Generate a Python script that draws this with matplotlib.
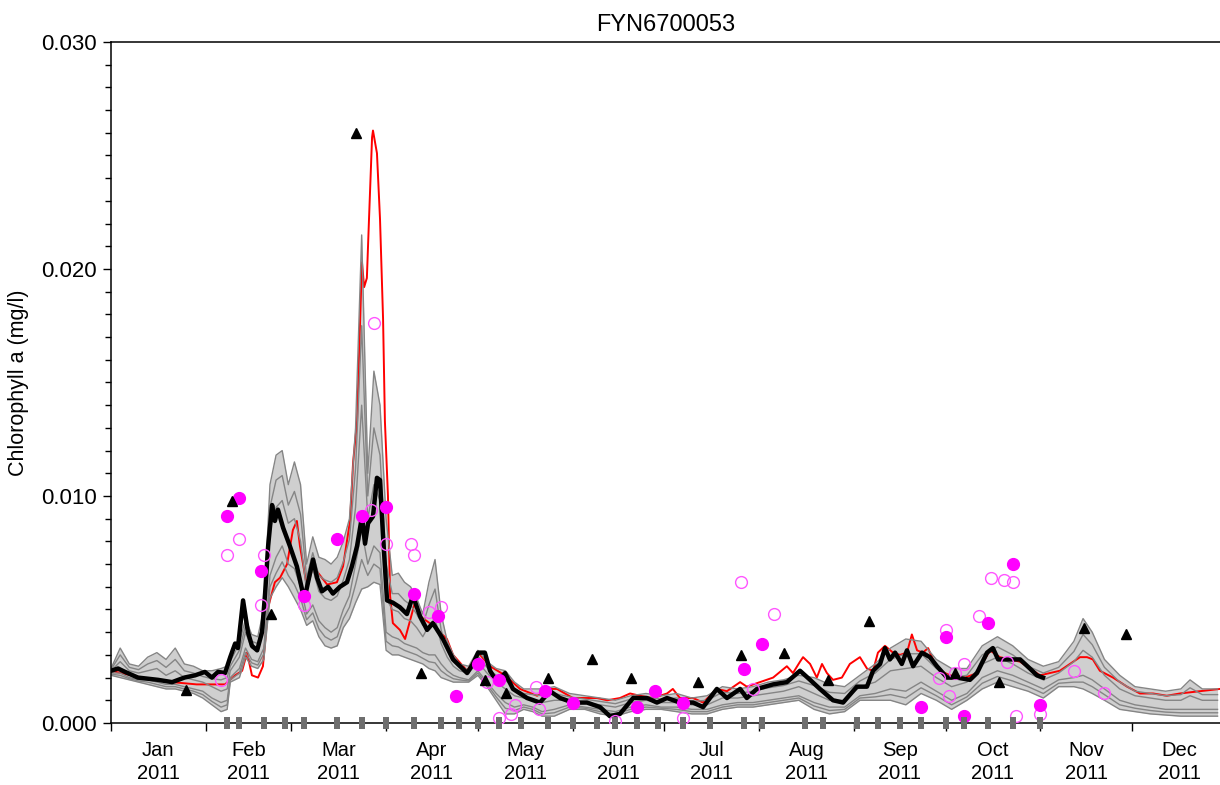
import numpy as np
import pandas as pd
import matplotlib
matplotlib.use('Agg')
import matplotlib.pyplot as plt
import matplotlib.dates as mdates
from matplotlib.ticker import FixedLocator, MultipleLocator, NullFormatter

plt.rcParams['font.family'] = ['Liberation Sans', 'DejaVu Sans']

START = pd.Timestamp('2011-01-01')

# values in ug/l (plotted as mg/l), x in day of year (0 = 1 Jan 2011)
black_doy = [0, 2.3, 4.6, 8.8, 15.4, 20, 24, 27.5, 30.7, 33, 35, 37.3, 39, 40.6, 41.5,
             43.2, 44.8, 46.1, 47.8, 49.4, 50.4, 51.4, 52.7, 53.6, 54.6, 56.3, 58.5, 60.8,
             62.8, 63.5, 65.1, 66.1, 67.4, 69, 71, 72.6, 74.9, 77.2, 78.8, 80.5, 82.1, 83.1,
             84.1, 85.7, 87, 88, 89, 90.3, 92.2, 94.5, 96.8, 98.8, 101.1, 103.4, 105.3,
             108.6, 111.9, 116.5, 118.4, 120.1, 122.3, 124, 126.3, 128.9, 131.5, 136.1,
             140.3, 143.6, 146.9, 151.1, 155.7, 160, 163.2, 166.5, 170.8, 175.3, 178.6,
             181.9, 186.1, 190.4, 193.7, 198.2, 201.5, 205.8, 208, 211.3, 216.6, 221.1,
             225.4, 228.7, 231.9, 236.2, 239.5, 244, 247.3, 249.3, 251.6, 253.2, 254.8,
             256.5, 258.7, 260.4, 262.4, 265.3, 267.9, 270.2, 273.5, 276.7, 281, 283.3,
             286.6, 288.5, 290.2, 294.1, 297.4, 300.6, 302.9, 304.9]
black_val = [2.3, 2.4, 2.25, 2.0, 1.9, 1.8, 2.0, 2.1, 2.25, 2.0, 2.25, 2.2, 2.9, 3.5, 3.3,
             5.4, 4.0, 3.4, 3.2, 4.0, 5.7, 7.8, 9.6, 8.9, 9.4, 8.6, 7.8, 6.9,
             5.7, 5.6, 6.6, 7.2, 6.4, 5.8, 6.0, 5.7, 6.0, 6.2, 6.9, 7.8, 9.1, 7.9,
             8.8, 9.1, 10.8, 10.7, 8.2, 5.4, 5.3, 5.1, 4.8, 5.6, 4.7, 4.1, 4.4,
             3.7, 2.8, 2.2, 2.6, 3.1, 3.1, 2.3, 1.8, 2.2, 1.5, 1.1,
             0.9, 1.4, 1.1, 0.9, 0.9, 0.7, 0.3, 0.4, 1.1, 1.1, 0.9,
             1.1, 0.9, 0.9, 0.7, 1.5, 1.1, 1.5, 1.1, 1.5, 1.7, 1.8,
             2.3, 1.9, 1.5, 1.0, 0.9, 1.6, 1.6, 2.3, 2.6, 3.3, 2.8,
             3.1, 2.6, 3.2, 2.5, 3.1, 2.9, 2.5, 2.0, 2.0, 1.9, 2.2,
             3.1, 3.3, 2.8, 2.8, 2.8, 2.4, 2.1, 2.0]

red_doy = [0, 10, 20, 28, 33, 37.3, 40.6, 42.9, 44.5, 46.1, 48.1, 49.7, 51.4, 53.6, 55.3,
           57.6, 59.5, 60.8, 61.8, 64.1, 66.1, 70.7, 73.9, 75.9, 78.2, 79.2, 80.5, 81.5,
           82.1, 82.8, 83.7, 84.4, 85.4, 85.7, 87, 88, 89, 89.6, 90.6, 91.3, 92.2, 94.5,
           96.2, 97.8, 99.4, 101.1, 105.3, 109.9, 111.9, 116.5, 120.1, 124, 128.9, 133.8,
           139.4, 143.6, 145.9, 151.1, 155.7, 159, 162.3, 166.5, 169.8, 173, 177.3, 181.9,
           183.8, 186.1, 190.4, 193.7, 198.2, 201.5, 205.8, 208, 212.3, 216.6, 221.1,
           223.1, 225.4, 226.4, 228.7, 230.9, 232.6, 234.2, 236.2, 239.1, 241.7, 245,
           247.3, 249.3, 250.9, 253.2, 255.8, 258.1, 260.4, 262, 263.7, 265.6, 267.3,
           268.9, 271.2, 274.5, 279.4, 283.3, 287.5, 290.8, 297.4, 303.9, 310.4, 317,
           319.3, 321.2, 323.5, 327.8, 332.4, 336.6, 340.9, 345.4, 349.7, 356.2, 362.8]
red_val = [2.3, 2.0, 1.8, 1.7, 1.7, 1.7, 2.1, 2.3, 3.1, 2.1, 2.0, 2.5, 5.1, 6.2, 6.4,
           7.0, 8.5, 8.9, 7.8, 6.0, 6.9, 6.1, 6.2, 6.9, 8.9, 11.5, 13.3, 17.8,
           20.3, 19.2, 19.6, 22.2, 25.8, 26.1, 25.1, 22.2, 17.8, 13.3, 10.0, 5.6, 4.4, 4.1,
           3.7, 4.5, 5.3, 4.7, 4.3, 3.7, 3.0, 2.3, 3.1, 2.5, 2.1, 1.5,
           1.2, 1.5, 1.5, 1.1, 1.1, 1.1, 1.0, 1.1, 1.3, 1.2, 1.1, 1.3,
           1.5, 1.1, 1.1, 0.9, 1.5, 1.4, 1.8, 1.6, 1.8, 2.0, 2.5,
           2.2, 2.7, 2.9, 2.6, 2.0, 2.6, 2.2, 1.9, 2.0, 2.6, 2.9,
           2.4, 2.3, 3.1, 3.4, 3.1, 3.0, 3.1, 3.9, 3.2, 3.1, 3.3,
           2.8, 2.3, 2.1, 2.0, 2.2, 3.2, 2.9, 2.7, 2.1, 2.3, 2.9,
           2.9, 2.8, 2.3, 2.0, 1.6, 1.3, 1.3, 1.2, 1.3, 1.4, 1.5]

# ensemble members (grey), shared day grid
ens_doy = [0, 3, 6, 9, 12, 15, 18, 21, 24, 27, 30, 33, 36,
           38, 39,
           42, 44, 46, 48, 50, 52, 54, 56, 58, 60, 62, 64, 66, 68, 70, 72, 74, 76, 78, 80,
           82, 84, 86, 88, 90, 92, 94, 96, 98, 100, 102, 104, 106, 108, 110, 112, 114,
           117, 120, 123, 126, 129, 132, 135, 138, 141,
           145,
           150, 155, 160, 165, 170, 175, 180, 185, 190, 195, 200, 205, 210, 215, 220, 225,
           230, 235, 240, 245, 250, 255, 260, 265, 270, 275, 280, 285, 290, 295, 300, 305,
           310, 315,
           318, 321,
           325, 330, 335, 340, 345, 350,
           353, 357, 362]
ens_hi = [2.4, 3.3, 2.6, 2.5, 2.9, 3.1, 2.8, 3.3, 2.6, 2.5, 2.3, 2.3, 2.4,
          2.5, 2.7,
          3.5, 4.6, 3.9, 3.8, 5.0, 10.5, 11.8, 12.0, 10.5, 11.5, 10.5, 7.0, 8.2, 7.3, 7.2,
          7.0, 7.3, 8.0, 9.0, 13.0, 21.5, 11.0, 15.5, 14.0, 9.0, 6.5, 6.6, 6.2, 6.0, 5.5,
          4.8, 6.2, 7.2, 4.8, 3.6, 3.0, 2.6,
          2.5, 3.2, 2.7, 2.4, 2.3, 1.8, 1.5, 1.5, 1.5,
          1.6,
          1.3, 1.2, 1.1, 1.0, 1.2, 1.3, 1.2, 1.3, 1.1, 1.2, 1.6, 1.5, 1.6, 1.8, 1.9, 2.1,
          2.0, 1.7, 1.6, 2.1, 2.6, 3.3, 3.7, 3.6, 2.8, 2.4, 2.4, 3.4, 3.8, 3.4, 2.8, 2.5,
          2.7, 3.6,
          4.6, 4.0,
          2.8, 2.1, 1.6, 1.5, 1.4, 1.5,
          1.9, 1.5, 1.5]
ens_c = [2.35, 3.0, 2.45, 2.35, 2.6, 2.75, 2.45, 2.8, 2.3, 2.2, 2.05, 1.95, 1.9,
         2.0, 2.5,
         3.2, 4.3, 3.6, 3.5, 4.6, 9.5, 10.7, 10.9, 9.6, 10.2, 9.2, 6.4, 7.5, 6.5, 6.3,
         6.2, 6.4, 7.1, 8.1, 11.2, 17.5, 10.0, 13.0, 11.8, 7.0, 5.7, 5.7, 5.4, 5.2, 4.8,
         4.3, 5.2, 5.9, 4.1, 3.2, 2.7, 2.45,
         2.35, 2.95, 2.45, 2.1, 1.9, 1.5, 1.3, 1.25, 1.2,
         1.3,
         1.15, 1.05, 0.95, 0.85, 1.05, 1.15, 1.05, 1.1, 0.95, 1.0, 1.35, 1.3, 1.4, 1.55,
         1.65, 1.85, 1.65, 1.35, 1.3, 1.85, 2.2, 2.8, 3.05, 3.05, 2.4, 2.0, 2.1, 3.0, 3.35,
         3.0, 2.5, 2.2, 2.45, 3.15,
         3.9, 3.45,
         2.45, 1.8, 1.4, 1.3, 1.2, 1.25,
         1.55, 1.25, 1.25]
ens_a = [2.3, 2.7, 2.3, 2.2, 2.3, 2.4, 2.1, 2.3, 2.0, 1.9, 1.8, 1.6, 1.4,
         1.5, 2.3,
         2.9, 4.0, 3.3, 3.2, 4.2, 8.5, 9.5, 9.8, 8.8, 9.0, 8.0, 5.8, 6.8, 5.8, 5.5,
         5.4, 5.6, 6.3, 7.2, 9.5, 14.0, 9.0, 10.5, 9.8, 5.5, 5.0, 4.9, 4.6, 4.5, 4.2,
         3.8, 4.3, 4.6, 3.5, 2.9, 2.5, 2.3,
         2.2, 2.7, 2.2, 1.8, 1.5, 1.2, 1.1, 1.0, 0.9,
         1.0,
         1.0, 0.9, 0.8, 0.7, 0.9, 1.0, 0.9, 0.9, 0.8, 0.8, 1.1, 1.1, 1.2, 1.3, 1.4, 1.6,
         1.3, 1.0, 1.0, 1.6, 1.8, 2.3, 2.4, 2.5, 2.0, 1.6, 1.8, 2.6, 2.9, 2.6, 2.2, 1.9,
         2.2, 2.7,
         3.2, 2.9,
         2.1, 1.5, 1.2, 1.1, 1.0, 1.0,
         1.2, 1.0, 1.0]
ens_b = [2.2, 2.2, 2.0, 1.9, 1.9, 1.8, 1.7, 1.7, 1.6, 1.5, 1.4, 1.1, 0.9,
         1.0, 2.0,
         2.4, 3.3, 2.8, 2.7, 3.3, 6.5, 7.3, 7.8, 7.0, 6.8, 6.0, 4.8, 5.2, 4.5, 4.2,
         4.0, 4.2, 5.0, 5.6, 7.0, 8.5, 7.0, 7.8, 7.5, 4.0, 3.8, 3.7, 3.5, 3.4, 3.3,
         3.1, 3.0, 3.0, 2.6, 2.3, 2.1, 2.0,
         1.9, 2.3, 1.8, 1.3, 0.9, 0.7, 0.8, 0.7, 0.5,
         0.6,
         0.8, 0.7, 0.6, 0.5, 0.7, 0.8, 0.7, 0.7, 0.6, 0.6, 0.8, 0.9, 0.9, 1.0, 1.1, 1.2,
         0.9, 0.7, 0.7, 1.2, 1.3, 1.5, 1.4, 1.8, 1.4, 1.0, 1.3, 2.0, 2.3, 2.1, 1.8, 1.5,
         1.9, 2.0,
         2.1, 1.9,
         1.5, 1.0, 0.8, 0.7, 0.6, 0.6,
         0.6, 0.6, 0.6]
ens_d = [2.15, 2.1, 1.95, 1.85, 1.8, 1.7, 1.6, 1.6, 1.5, 1.4, 1.25, 0.95, 0.7,
         0.8, 1.9,
         2.2, 3.1, 2.65, 2.55, 3.05, 6.0, 6.6, 7.1, 6.5, 6.1, 5.5, 4.55, 4.85, 4.15, 3.8,
         3.65, 3.8, 4.6, 5.1, 6.1, 7.2, 6.5, 7.0, 6.8, 3.6, 3.4, 3.35, 3.2, 3.1, 3.0,
         2.85, 2.7, 2.65, 2.3, 2.1, 1.95, 1.9,
         1.85, 2.2, 1.7, 1.15, 0.65, 0.55, 0.7, 0.6, 0.4,
         0.45,
         0.7, 0.65, 0.5, 0.4, 0.6, 0.7, 0.65, 0.6, 0.5, 0.5, 0.7, 0.8, 0.8, 0.9, 1.0, 1.1,
         0.75, 0.55, 0.6, 1.1, 1.15, 1.25, 1.1, 1.55, 1.2, 0.8, 1.15, 1.75, 2.05, 1.85,
         1.6, 1.3, 1.75, 1.8,
         1.8, 1.6,
         1.25, 0.8, 0.65, 0.55, 0.48, 0.45,
         0.45, 0.45, 0.45]
ens_lo = [2.1, 2.0, 1.9, 1.8, 1.7, 1.6, 1.5, 1.5, 1.4, 1.3, 1.1, 0.8, 0.5,
          0.6, 1.8,
          2.0, 2.9, 2.5, 2.4, 2.8, 5.5, 6.0, 6.4, 6.0, 5.5, 5.0, 4.3, 4.5, 3.8, 3.4,
          3.3, 3.4, 4.2, 4.6, 5.3, 5.9, 6.0, 6.2, 6.1, 3.2, 3.0, 3.0, 2.9, 2.8, 2.7,
          2.6, 2.4, 2.3, 2.0, 1.9, 1.8, 1.8,
          1.8, 2.1, 1.6, 1.0, 0.4, 0.4, 0.6, 0.5, 0.3,
          0.3,
          0.6, 0.6, 0.4, 0.3, 0.5, 0.6, 0.6, 0.5, 0.4, 0.4, 0.6, 0.7, 0.7, 0.8, 0.9, 1.0,
          0.6, 0.4, 0.5, 1.0, 1.0, 1.0, 0.8, 1.3, 1.0, 0.6, 1.0, 1.5, 1.8, 1.6, 1.4, 1.1,
          1.6, 1.6,
          1.5, 1.3,
          1.0, 0.6, 0.5, 0.4, 0.35, 0.3,
          0.3, 0.3, 0.3]

obs_fill_doy = [38, 42, 49, 63, 74, 82, 90, 99, 107, 113, 120, 127, 142, 151, 172,
                178, 187, 207, 213, 265, 273, 279, 287, 295, 304]
obs_fill_val = [9.1, 9.9, 6.7, 5.6, 8.1, 9.1, 9.5, 5.7, 4.7, 1.2, 2.6, 1.9, 1.4, 0.9, 0.7,
                1.4, 0.9, 2.4, 3.5, 0.7, 3.8, 0.3, 4.4, 7.0, 0.8]

obs_open_doy = [36, 38, 42, 49, 50, 63, 85, 86, 90, 98, 99, 104, 108, 123, 127, 131, 132,
                139, 140, 165, 187, 206, 210, 217, 271, 273, 274, 276, 279, 284, 288, 292,
                293, 295, 296, 304, 315, 325]
obs_open_val = [1.9, 7.4, 8.1, 5.2, 7.4, 5.2, 9.4, 17.6, 7.9, 7.9, 7.4, 4.9, 5.1, 1.8, 0.2,
                0.4, 0.8, 1.6, 0.6, 0.1, 0.2, 6.2, 1.5, 4.8, 2.0, 4.1, 1.2, 2.2, 2.6, 4.7,
                6.4, 6.3, 2.7, 6.2, 0.3, 0.4, 2.3, 1.3]

tri_doy = [24.5, 39.6, 52.3, 80.1, 101.4, 122.3, 129.2, 143, 157.3, 170.1, 192, 206.1,
           220.2, 234.5, 248, 276, 290.5, 318.3, 332]
tri_val = [1.45, 9.8, 4.8, 26.0, 2.2, 1.9, 1.3, 2.0, 2.8, 2.0, 1.8, 3.0, 3.1, 1.9, 4.5,
           2.2, 1.8, 4.2, 3.9]

sample_doy = [38, 42, 50, 57, 63, 74, 82, 90, 99, 108, 114, 120, 127, 134, 143, 151, 159,
              165, 172, 179, 187, 196, 207, 213, 227, 233, 244, 251, 258, 265, 273, 279,
              287, 295, 304]


def to_dates(doy):
    return START + pd.to_timedelta(np.asarray(doy, dtype=float), unit='D')


def mgl(vals):
    return np.asarray(vals, dtype=float) / 1000.0


fig = plt.figure(figsize=(12.2, 7.85), dpi=100)
ax = fig.add_axes([0.091, 0.079, 0.909, 0.8675])

ens_x = to_dates(ens_doy)
ax.fill_between(ens_x, mgl(ens_lo), mgl(ens_hi), color='#cfcfcf', lw=0, zorder=1)
ax.plot(to_dates(red_doy), mgl(red_val), color='#ff0000', lw=1.4, zorder=1.5)
for member in (ens_hi, ens_c, ens_a, ens_b, ens_d, ens_lo):
    ax.plot(ens_x, mgl(member), color='#858585', lw=1.0, zorder=2)
ax.plot(to_dates(black_doy), mgl(black_val), color='black', lw=3.2, zorder=3)

ax.plot(to_dates(obs_open_doy), mgl(obs_open_val), ls='none', marker='o', ms=8.5,
        mfc='none', mec='#ff55ff', mew=1.0, zorder=4)
ax.plot(to_dates(obs_fill_doy), mgl(obs_fill_val), ls='none', marker='o', ms=8.5,
        mfc='#ff00ff', mec='#ff00ff', zorder=5)
ax.plot(to_dates(tri_doy), mgl(tri_val), ls='none', marker='^', ms=7.5,
        color='black', zorder=5)
rect = [(-1, -2), (1, -2), (1, 2), (-1, 2), (-1, -2)]
ax.plot(to_dates(sample_doy), np.zeros(len(sample_doy)), ls='none', marker=rect,
        ms=8.5, color='#6e6e6e', mew=0, clip_on=False, zorder=6)

# axes limits and ticks
ax.set_ylim(0, 0.03)
ax.set_xlim(START, START + pd.Timedelta(days=362.8))
ax.yaxis.set_major_locator(MultipleLocator(0.01))
ax.yaxis.set_minor_locator(MultipleLocator(0.001))
ax.yaxis.set_major_formatter(plt.FuncFormatter(lambda v, p: f'{v:.3f}'))
ax.tick_params(axis='y', which='major', length=6, width=1, labelsize=16, pad=4)
ax.tick_params(axis='y', which='minor', length=4, width=1)

month_starts = pd.date_range('2011-01-01', '2012-01-01', freq='MS')
mids = [a + (b - a) / 2 for a, b in zip(month_starts[:-1], month_starts[1:])]
ax.xaxis.set_major_locator(FixedLocator(mdates.date2num(month_starts[:-1])))
ax.xaxis.set_major_formatter(NullFormatter())
ax.xaxis.set_minor_locator(FixedLocator(mdates.date2num(mids)))
ax.xaxis.set_minor_formatter(plt.FixedFormatter([m.strftime('%b\n%Y') for m in mids]))
ax.tick_params(axis='x', which='major', length=6, width=1)
ax.tick_params(axis='x', which='minor', length=0, labelsize=14.5, pad=13)
for lab in ax.xaxis.get_minorticklabels():
    lab.set_linespacing(1.25)

for side in ('left', 'bottom', 'top'):
    ax.spines[side].set_linewidth(1.1)
ax.spines['right'].set_visible(False)

ax.set_ylabel('Chlorophyll a (mg/l)', fontsize=15.5, labelpad=9)
ax.set_title('FYN6700053', fontsize=17, pad=8)

fig.savefig('out.png', dpi=100)
